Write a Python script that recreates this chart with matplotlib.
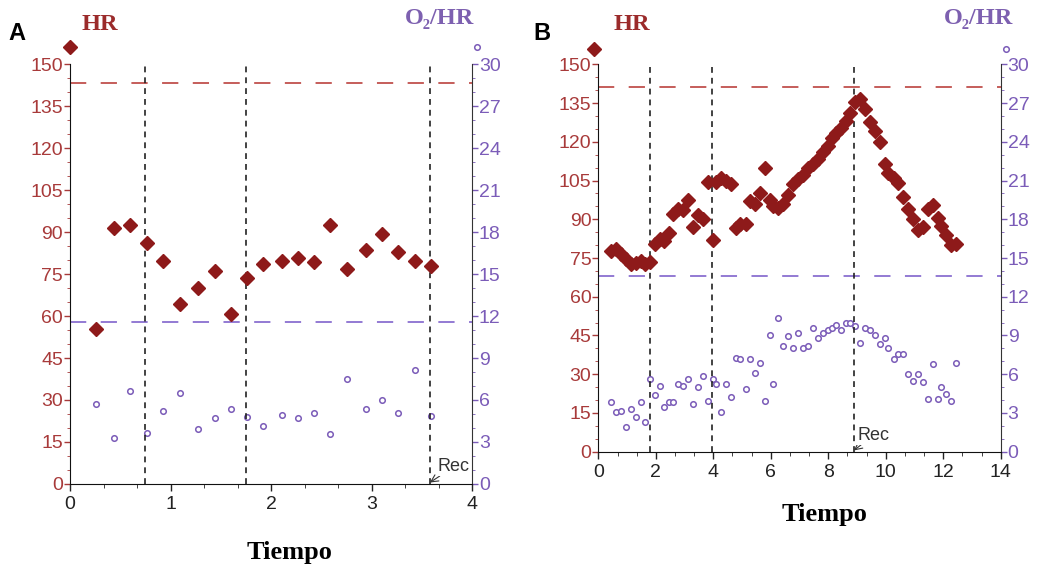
import matplotlib
matplotlib.use("Agg")
import matplotlib.pyplot as plt
from matplotlib.ticker import MultipleLocator
import numpy as np

# ---- data: panel A ----
tA = [0.26, 0.44, 0.60, 0.77, 0.93, 1.09, 1.27, 1.44, 1.60, 1.76, 1.92,
      2.11, 2.27, 2.43, 2.59, 2.76, 2.94, 3.10, 3.26, 3.43, 3.59]
hrA = [55.5, 91.3, 92.6, 86.1, 79.8, 64.4, 70.1, 76.1, 60.7, 73.5, 78.5,
       79.8, 80.6, 79.2, 92.6, 76.7, 83.7, 89.4, 83.0, 79.8, 78.0]
o2A = [5.72, 3.29, 6.63, 3.67, 5.20, 6.50, 3.93, 4.72, 5.34, 4.81, 4.17,
       4.95, 4.72, 5.10, 3.55, 7.50, 5.34, 5.98, 5.10, 8.15, 4.84]
hrA_ref = 143.2
o2A_ref = 11.56
phasesA = [0.75, 1.755, 3.58]

# ---- data: panel B ----
tB = [0.43, 0.60, 0.78, 0.95, 1.13, 1.30, 1.47, 1.64, 1.81, 1.98, 2.15, 2.27,
      2.45, 2.61, 2.78, 2.95, 3.12, 3.29, 3.47, 3.64, 3.81, 3.98, 4.10, 4.26,
      4.43, 4.61, 4.78, 4.94, 5.13, 5.29, 5.46, 5.63, 5.81, 5.99, 6.09, 6.26,
      6.44, 6.61, 6.79, 6.96, 7.13, 7.31, 7.47, 7.64, 7.81, 7.98, 8.14, 8.26,
      8.43, 8.61, 8.77, 8.94, 9.12, 9.29, 9.45, 9.63, 9.80, 9.98, 10.09, 10.27,
      10.43, 10.60, 10.78, 10.95, 11.13, 11.30, 11.47, 11.65, 11.81, 11.93, 12.10,
      12.27, 12.45]
hrB = [77.8, 78.5, 76.5, 74.5, 72.8, 73.0, 74.0, 72.5, 73.5, 80.5, 82.5, 81.5,
       84.5, 92.0, 94.0, 93.5, 97.5, 87.0, 91.5, 90.0, 104.5, 82.0, 104.5, 106.0,
       105.0, 103.5, 86.5, 88.0, 88.0, 97.0, 96.0, 100.0, 110.0, 97.5, 95.0, 94.5,
       96.0, 99.5, 103.5, 105.5, 107.0, 110.0, 111.5, 113.5, 116.0, 118.5, 121.5, 123.5,
       125.5, 128.0, 131.0, 135.5, 136.5, 132.5, 127.5, 124.0, 120.0, 111.5, 108.0, 106.0,
       104.0, 98.5, 94.0, 90.0, 86.0, 87.0, 94.0, 95.5, 90.5, 87.5, 84.0,
       80.0, 80.5]
o2B = [3.83, 3.05, 3.18, 1.94, 3.31, 2.69, 3.83, 2.30, 5.60, 4.36, 5.11, 3.46,
       3.83, 3.83, 5.24, 5.11, 5.60, 3.69, 4.98, 5.86, 3.95, 5.60, 5.24, 3.05,
       5.24, 4.21, 7.28, 7.15, 4.85, 7.15, 6.12, 6.89, 3.95, 9.06, 5.24, 10.32,
       8.15, 8.93, 8.02, 9.19, 8.02, 8.15, 9.57, 8.80, 9.19, 9.45, 9.57, 9.83,
       9.45, 9.96, 9.96, 9.70, 8.44, 9.57, 9.45, 9.06, 8.31, 8.80, 8.02, 7.15,
       7.54, 7.54, 5.99, 5.49, 5.99, 5.37, 4.08, 6.76, 4.08, 4.98, 4.47,
       3.95, 6.89]
hrB_ref = 141.3
o2B_ref = 13.58
phasesB = [1.79, 3.95, 8.89]

hr_ticks = [0, 15, 30, 45, 60, 75, 90, 105, 120, 135, 150]
o2_ticks = [0, 3, 6, 9, 12, 15, 18, 21, 24, 27, 30]

RED = '#8e1a1a'
RED_TXT = '#a83a3a'
RED_LINE = '#c0504d'
PURPLE = '#7b5cb8'
PURPLE_LINE = '#8a6fd0'

plt.rcParams['font.family'] = ['Liberation Sans', 'DejaVu Sans']
SERIF = ['Liberation Serif', 'DejaVu Serif']


def panel(fig, rect, t, hr, o2, hr_ref, o2_ref, phases, xmax, xmaj, xmin, rec_xy, leg_x):
    ax = fig.add_axes(rect)
    ax2 = ax.twinx()
    ax.set_xlim(0, xmax)
    ax.set_ylim(0, 150)
    ax2.set_ylim(0, 30)

    ax.plot(t, hr, linestyle='none', marker='D', ms=6.8, color=RED, zorder=4)
    ax2.plot(t, o2, linestyle='none', marker='o', ms=4, mfc='white',
             mec=PURPLE, mew=1.1, zorder=4)

    ax.axhline(hr_ref, color=RED_LINE, lw=1.3, dashes=(9, 8), zorder=2)
    ax2.axhline(o2_ref, color=PURPLE_LINE, lw=1.3, dashes=(9, 8), zorder=2)
    for p in phases:
        ax.axvline(p, color='#222222', lw=1.2, dashes=(3.5, 3), zorder=3)

    # legend symbols above the axes
    ax.plot([leg_x[0]], [156], marker='D', ms=6.8, color=RED, clip_on=False)
    ax2.plot([leg_x[1]], [31.2], marker='o', ms=4, mfc='white', mec=PURPLE,
             mew=1.1, clip_on=False)

    ax.annotate('Rec', xy=(phases[-1], 0.5), xytext=rec_xy, textcoords='data',
                fontsize=13, color='#333333',
                arrowprops=dict(arrowstyle='->', color='#333333', lw=0.8,
                                shrinkA=0, shrinkB=0),
                bbox=dict(fc='white', ec='none', pad=0.5), zorder=6)

    ax.set_yticks(hr_ticks)
    ax.yaxis.set_minor_locator(MultipleLocator(5))
    ax2.set_yticks(o2_ticks)
    ax2.yaxis.set_minor_locator(MultipleLocator(1))
    ax.set_xticks(np.arange(0, xmax + 0.01, xmaj))
    ax.xaxis.set_minor_locator(MultipleLocator(xmin))

    ax.tick_params(axis='y', which='major', colors=RED_TXT, labelsize=14,
                   length=4, pad=1, width=1)
    ax.tick_params(axis='y', which='minor', colors=RED_TXT, length=2.5)
    ax2.tick_params(axis='y', which='major', colors=PURPLE, labelsize=14,
                    length=4, pad=1, width=1)
    ax2.tick_params(axis='y', which='minor', colors=PURPLE, length=2.5)
    ax.tick_params(axis='x', which='major', colors='#222222', labelsize=14,
                   length=5, pad=4, width=1)
    ax.tick_params(axis='x', which='minor', colors='#222222', length=3)

    for a in (ax, ax2):
        a.spines['top'].set_visible(False)
    ax2.spines['left'].set_visible(False)
    ax2.spines['bottom'].set_visible(False)
    ax.spines['right'].set_visible(False)
    ax.spines['left'].set_color('#111111')
    ax.spines['bottom'].set_color('#111111')
    ax2.spines['right'].set_color('#333333')
    ax.set_zorder(ax2.get_zorder() + 1)
    ax.patch.set_visible(False)
    return ax, ax2


fig = plt.figure(figsize=(10.37, 5.70), dpi=100)

axA, axA2 = panel(fig, [0.0675, 0.151, 0.3877, 0.7363], tA, hrA, o2A,
                  hrA_ref, o2A_ref, phasesA, 4, 1, 1/3, (3.66, 4.5), (0.0, 4.05))
axB, axB2 = panel(fig, [0.577, 0.2075, 0.388, 0.6797], tB, hrB, o2B,
                  hrB_ref, o2B_ref, phasesB, 14, 2, 2/3, (9.0, 4.5), (-0.15, 14.2))

fig.text(0.279, 0.030, 'Tiempo', family=SERIF, fontweight='bold', fontsize=19,
         ha='center', va='center')
fig.text(0.795, 0.097, 'Tiempo', family=SERIF, fontweight='bold', fontsize=19,
         ha='center', va='center')

for x0, lab, hx, ox in [(0.008, 'A', 0.096, 0.424), (0.514, 'B', 0.609, 0.944)]:
    fig.text(x0, 0.942, lab, fontsize=17, fontweight='bold', ha='left', va='center')
    fig.text(hx, 0.957, 'HR', family=SERIF, fontweight='bold', fontsize=17.5,
             color='#9b2b2b', ha='center', va='center')
    fig.text(ox, 0.967, 'O₂/HR', family=SERIF, fontweight='bold', fontsize=17.5,
             color='#7d60b0', ha='center', va='center')

fig.savefig('out.png', dpi=100)
